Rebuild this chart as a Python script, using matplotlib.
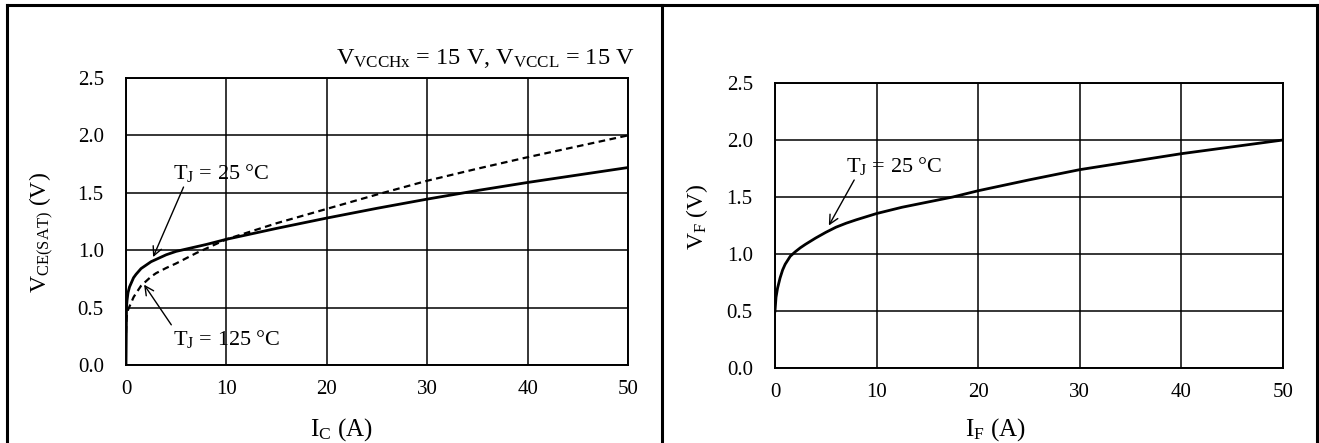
import matplotlib
matplotlib.use("Agg")
import matplotlib.pyplot as plt
from matplotlib.lines import Line2D

plt.rcParams['font.family'] = ['Liberation Serif', 'DejaVu Serif']
plt.rcParams['mathtext.fontset'] = 'custom'
plt.rcParams['mathtext.rm'] = 'Liberation Serif'
plt.rcParams['mathtext.it'] = 'Liberation Serif'

# V_CE(SAT) vs I_C
ic = [0, 0.05, 0.1, 0.2, 0.35, 0.5, 0.75, 1, 1.5, 2, 2.5, 3, 4, 5, 6, 7, 8, 10,
      15, 20, 25, 30, 35, 40, 45, 50]
vce_25 = [0.0, 0.5, 0.56, 0.63, 0.68, 0.71, 0.76, 0.79, 0.84, 0.87, 0.9, 0.92,
          0.96, 0.99, 1.01, 1.03, 1.05, 1.095, 1.19, 1.28, 1.365, 1.445, 1.52,
          1.59, 1.655, 1.72]
vce_125 = [0.28, 0.40, 0.44, 0.48, 0.51, 0.54, 0.59, 0.625, 0.69, 0.73, 0.77, 0.80,
           0.845, 0.885, 0.93, 0.975, 1.015, 1.095, 1.235, 1.36, 1.485, 1.605, 1.71,
           1.81, 1.905, 2.0]

# V_F vs I_F
i_f = [0, 0.1, 0.25, 0.5, 0.75, 1, 1.5, 2, 2.5, 3, 4, 5, 6, 7, 8, 10, 12.5, 15,
       17.5, 20, 25, 30, 35, 40, 45, 50]
v_f = [0.5, 0.62, 0.70, 0.79, 0.86, 0.91, 0.98, 1.02, 1.055, 1.085, 1.14, 1.19,
       1.235, 1.27, 1.30, 1.355, 1.41, 1.455, 1.5, 1.555, 1.65, 1.74, 1.81, 1.88,
       1.94, 2.0]

xticks = [0, 10, 20, 30, 40, 50]
yticks = [0.0, 0.5, 1.0, 1.5, 2.0, 2.5]

W, H = 1319, 443
fig = plt.figure(figsize=(W / 100, H / 100), dpi=100)

ax1 = fig.add_axes([126 / W, 1 - 365 / H, 502 / W, 287 / H])
ax2 = fig.add_axes([775 / W, 1 - 368 / H, 508 / W, 285 / H])

for ax in (ax1, ax2):
    ax.set_xlim(0, 50)
    ax.set_ylim(0, 2.5)
    ax.set_xticks(xticks)
    ax.set_yticks(yticks)
    ax.set_yticklabels(["%.1f" % v for v in yticks])
    ax.grid(True, color='black', linewidth=1.1)
    ax.set_axisbelow(True)
    ax.tick_params(length=0, labelsize=15)
    ax.tick_params(axis='y', pad=16)
    ax.tick_params(axis='x', pad=11)
    for s in ax.spines.values():
        s.set_linewidth(1.4)

ax1.plot(ic, vce_25, color='black', linewidth=2, zorder=3)
ax1.plot(ic, vce_125, color='black', linewidth=1.6, linestyle=(0, (3, 2)), zorder=3)
ax1.set_ylabel(r'$\mathrm{V_{CE(SAT)}}$ (V)', fontsize=17, va='center')
ax1.set_xlabel(r'$\mathrm{I_C}$ (A)', fontsize=18, va='center')
ax1.yaxis.set_label_coords(-0.167, 0.46)
ax1.xaxis.set_label_coords(0.428, -0.225)

ax1.annotate(r'$\mathrm{T_J}$ = 25 °C', xy=(2.7, 0.94), xytext=(4.7, 1.67),
             fontsize=16, va='center', ha='left',
             arrowprops=dict(arrowstyle='->', color='black', lw=1,
                             shrinkA=0, shrinkB=0,
                             relpos=(0.12, 0.0)))
ax1.annotate(r'$\mathrm{T_J}$ = 125 °C', xy=(1.8, 0.70), xytext=(4.7, 0.23),
             fontsize=16, va='center', ha='left',
             arrowprops=dict(arrowstyle='->', color='black', lw=1,
                             shrinkA=0, shrinkB=0,
                             relpos=(0.0, 1.0)))
ax1.text(635 / W, 1 - 58 / H, r'$\mathrm{V_{VCCHx}}$ = 15 V, $\mathrm{V_{VCCL}}$ = 15 V',
         transform=fig.transFigure, fontsize=17.5, ha='right', va='center')

ax2.plot(i_f, v_f, color='black', linewidth=2, zorder=3)
ax2.set_ylabel(r'$\mathrm{V_F}$ (V)', fontsize=17, va='center')
ax2.set_xlabel(r'$\mathrm{I_F}$ (A)', fontsize=18, va='center')
ax2.yaxis.set_label_coords(-0.153, 0.53)
ax2.xaxis.set_label_coords(0.433, -0.215)
ax2.annotate(r'$\mathrm{T_J}$ = 25 °C', xy=(5.3, 1.25), xytext=(7.0, 1.77),
             fontsize=16, va='center', ha='left',
             arrowprops=dict(arrowstyle='->', color='black', lw=1,
                             shrinkA=0, shrinkB=0,
                             relpos=(0.1, 0.0)))

# outer frame and divider
frame = dict(color='black', linewidth=2.2, transform=fig.transFigure)
fig.add_artist(Line2D([7 / W, 1317 / W], [1 - 5 / H, 1 - 5 / H], **frame))
fig.add_artist(Line2D([7 / W, 7 / W], [0, 1 - 5 / H], **frame))
fig.add_artist(Line2D([662 / W, 662 / W], [0, 1 - 5 / H], **frame))
fig.add_artist(Line2D([1317 / W, 1317 / W], [0, 1 - 5 / H], **frame))

fig.savefig('out.png', dpi=100)
